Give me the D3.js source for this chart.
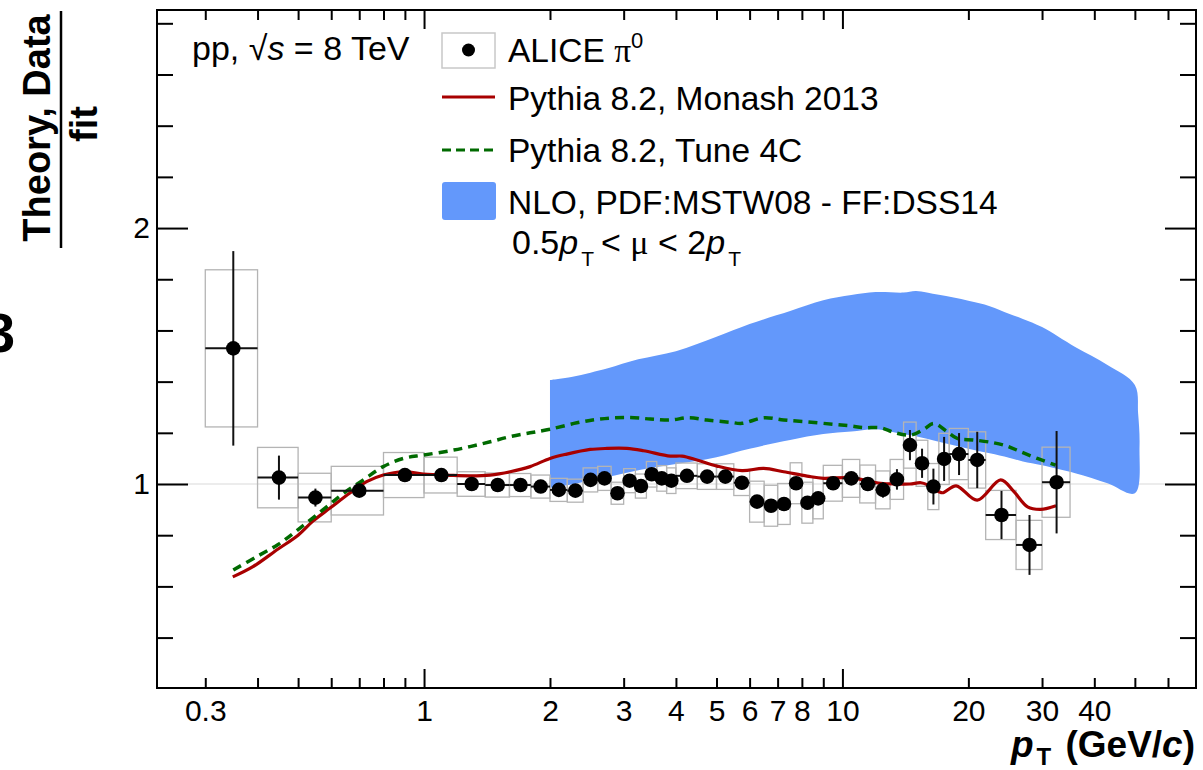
<!DOCTYPE html>
<html>
<head>
<meta charset="utf-8">
<script src="https://cdn.jsdelivr.net/npm/d3@7/dist/d3.min.js"></script>
<style>
  body { margin: 0; background: #fff; }
  svg { display: block; font-family: "Liberation Sans", Arial, Helvetica, sans-serif; }
</style>
</head>
<body>
<div id="chart"></div>
<script>
// ALICE pi0 pp 8 TeV, ratio to fit : bins, values, errors
var binLow  = [0.3,0.4,0.5,0.6,0.8,1.0,1.2,1.4,1.6,1.8,2.0,2.2,2.4,2.6,2.8,3.0,3.2,3.4,3.6,3.8,4.0,4.5,5.0,5.5,6.0,6.5,7.0,7.5,8.0,8.5,9,10,11,12,13,14,15,16,17,18,20,22,26,30];
var binHigh = [0.4,0.5,0.6,0.8,1.0,1.2,1.4,1.6,1.8,2.0,2.2,2.4,2.6,2.8,3.0,3.2,3.4,3.6,3.8,4.0,4.5,5.0,5.5,6.0,6.5,7.0,7.5,8.0,8.5,9.0,10,11,12,13,14,15,16,17,18,20,22,26,30,35];
var ptCenter = [0.35,0.45,0.55,0.7,0.9,1.1,1.3,1.5,1.7,1.9,2.1,2.3,2.5,2.7,2.9,3.1,3.3,3.5,3.7,3.9,4.25,4.75,5.25,5.75,6.25,6.75,7.25,7.75,8.25,8.75,9.5,10.5,11.5,12.5,13.5,14.5,15.5,16.5,17.5,19,21,24,28,32.5];
var ratio = [1.530,1.025,0.947,0.974,1.035,1.035,1.000,0.996,0.996,0.990,0.977,0.974,1.016,1.022,0.964,1.013,0.992,1.038,1.022,1.013,1.032,1.029,1.029,1.005,0.931,0.915,0.922,1.003,0.927,0.944,1.003,1.022,1.000,0.977,1.018,1.152,1.081,0.990,1.098,1.117,1.094,0.879,0.762,1.007];
var statErr = [0.38,0.086,0.035,0.01,0.01,0.01,0.01,0.01,0.01,0.01,0.01,0.01,0.01,0.01,0.01,0.01,0.01,0.01,0.01,0.01,0.01,0.01,0.01,0.012,0.015,0.015,0.015,0.015,0.02,0.02,0.015,0.02,0.02,0.03,0.04,0.059,0.057,0.07,0.086,0.082,0.11,0.094,0.117,0.2];
var systErr = [0.307,0.118,0.095,0.095,0.088,0.07,0.048,0.047,0.045,0.045,0.045,0.045,0.047,0.047,0.043,0.047,0.047,0.05,0.05,0.05,0.05,0.05,0.05,0.05,0.08,0.08,0.08,0.08,0.08,0.08,0.07,0.074,0.074,0.074,0.078,0.09,0.09,0.09,0.10,0.10,0.11,0.096,0.096,0.137];

// Pythia 8.2 Monash 2013
var monashPt = [0.349,0.39,0.447,0.5,0.5425,0.596,0.665,0.729,0.799,0.892,0.996,1.154,1.288,1.439,1.606,1.793,2.0,2.194,2.495,2.736,3.054,3.346,3.878,4.136,4.491,5.015,5.754,6.482,7.236,8.233,9.022,10.45,12.33,13.5,14.5,15.4,16.0,17.0,17.4,18.7,21.0,23.9,25.7,27.7,29.8,32.4];
var monashRatio = [0.637,0.677,0.745,0.80,0.855,0.906,0.965,1.009,1.035,1.048,1.039,1.034,1.032,1.035,1.048,1.068,1.100,1.117,1.135,1.139,1.139,1.130,1.109,1.109,1.094,1.070,1.052,1.061,1.048,1.031,1.022,1.025,1.003,1.0,1.0,1.005,0.996,0.970,0.966,0.993,0.937,1.016,0.970,0.911,0.901,0.915];

// Pythia 8.2 Tune 4C
var tune4cPt = [0.35,0.398,0.448,0.5,0.585,0.641,0.716,0.799,0.892,0.996,1.154,1.288,1.439,1.606,1.793,2.0,2.319,2.637,3.054,3.473,3.878,4.289,4.746,5.397,5.754,6.482,7.236,8.233,9.532,10.45,11.25,12.33,13.27,14.55,15.65,16.54,17.8,18.81,20.61,23.01,24.77,26.66,29.23,32.33];
var tune4cRatio = [0.664,0.716,0.764,0.822,0.911,0.963,1.016,1.068,1.100,1.113,1.130,1.146,1.165,1.185,1.200,1.214,1.239,1.254,1.260,1.254,1.250,1.259,1.250,1.241,1.237,1.259,1.250,1.243,1.233,1.227,1.220,1.220,1.202,1.191,1.214,1.237,1.204,1.178,1.172,1.161,1.148,1.126,1.100,1.074];

// NLO band (scale variation)
var nloPt   = [2,2.25,2.5,2.75,3.25,4,5,6,7.5,9,10.5,12,14,15,17,20,22.5,25,27,30,36,43,50];
var nloHigh = [1.406,1.418,1.435,1.452,1.487,1.519,1.575,1.625,1.676,1.718,1.738,1.750,1.748,1.754,1.739,1.716,1.695,1.665,1.645,1.613,1.535,1.465,1.387];
var nloLow  = [0.985,0.998,1.015,1.028,1.054,1.078,1.105,1.138,1.172,1.195,1.205,1.214,1.194,1.187,1.165,1.138,1.120,1.103,1.088,1.073,1.042,1.003,0.964];
var nloEdgePt = [50.9,51.3];
var nloEdgeRatio = [1.276,1.146];

// axis ticks
var xTickLabels = [0.3,1,2,3,4,5,6,7,8,10,20,30,40];
var xMinorTicks = [0.3,0.4,0.5,0.6,0.7,0.8,0.9,2,3,4,5,6,7,8,9,20,30,40,50,60];
var xMajorTicks = [1,10];
var yTickLabels = [1,2];
var yMinorTicks = [0.4,0.6,0.8,1.2,1.4,1.6,1.8,2.2,2.4,2.6,2.8];

var W = 1203, H = 770;
var frame = {left: 157, right: 1196, top: 10, bottom: 688};

var svg = d3.select("#chart").append("svg")
  .attr("width", W).attr("height", H);

var x = d3.scaleLog().domain([0.23, 70]).range([frame.left, frame.right]);
var y = d3.scaleLinear().domain([0.203, 2.852]).range([frame.bottom, frame.top]);

var blue = "#6398fb", red = "#a80000", green = "#006a00";

// reference line at 1
svg.append("line")
  .attr("x1", frame.left).attr("x2", frame.right)
  .attr("y1", y(1)).attr("y2", y(1))
  .attr("stroke", "#ececec").attr("stroke-width", 2);

// NLO band
var outline = [];
nloPt.forEach(function(p, i) { outline.push([p, nloHigh[i]]); });
nloEdgePt.forEach(function(p, i) { outline.push([p, nloEdgeRatio[i]]); });
for (var i = nloPt.length - 1; i >= 0; i--) outline.push([nloPt[i], nloLow[i]]);
svg.append("path")
  .attr("d", d3.line().x(function(d) { return x(d[0]); }).y(function(d) { return y(d[1]); })
    .curve(d3.curveCatmullRom)(outline) + "Z")
  .attr("fill", blue);

// data table
var data = ptCenter.map(function(p, i) {
  return {pt: p, lo: binLow[i], hi: binHigh[i], v: ratio[i], stat: statErr[i], syst: systErr[i]};
});

// systematic boxes
svg.selectAll("rect.syst").data(data).enter().append("rect")
  .attr("class", "syst")
  .attr("x", function(d) { return x(d.lo); })
  .attr("width", function(d) { return x(d.hi) - x(d.lo); })
  .attr("y", function(d) { return y(d.v + d.syst); })
  .attr("height", function(d) { return y(d.v - d.syst) - y(d.v + d.syst); })
  .attr("fill", "none").attr("stroke", "#b4b4b4").attr("stroke-width", 1.3);

// Pythia curves
var curve = d3.line().x(function(d) { return x(d[0]); }).y(function(d) { return y(d[1]); })
  .curve(d3.curveCatmullRom);
svg.append("path")
  .attr("d", curve(monashPt.map(function(p, i) { return [p, monashRatio[i]]; })))
  .attr("fill", "none").attr("stroke", red).attr("stroke-width", 3.2);
svg.append("path")
  .attr("d", curve(tune4cPt.map(function(p, i) { return [p, tune4cRatio[i]]; })))
  .attr("fill", "none").attr("stroke", green).attr("stroke-width", 3.5)
  .attr("stroke-dasharray", "9,6");

// stat errors
svg.selectAll("line.xerr").data(data).enter().append("line")
  .attr("x1", function(d) { return x(d.lo); }).attr("x2", function(d) { return x(d.hi); })
  .attr("y1", function(d) { return y(d.v); }).attr("y2", function(d) { return y(d.v); })
  .attr("stroke", "#111").attr("stroke-width", 2);
svg.selectAll("line.yerr").data(data).enter().append("line")
  .attr("x1", function(d) { return x(d.pt); }).attr("x2", function(d) { return x(d.pt); })
  .attr("y1", function(d) { return y(d.v - d.stat); }).attr("y2", function(d) { return y(d.v + d.stat); })
  .attr("stroke", "#111").attr("stroke-width", 2);
svg.selectAll("circle.pt").data(data).enter().append("circle")
  .attr("cx", function(d) { return x(d.pt); }).attr("cy", function(d) { return y(d.v); })
  .attr("r", 7.3).attr("fill", "#000");

// axes (ROOT style: ticks inside, mirrored)
function styleAxis(g) {
  g.select(".domain").remove();
  g.selectAll("line").attr("stroke", "#000").attr("stroke-width", 2);
}
svg.append("g").attr("transform", "translate(0," + frame.bottom + ")")
  .call(d3.axisBottom(x).tickValues(xMinorTicks).tickSize(-10).tickFormat("")).call(styleAxis);
svg.append("g").attr("transform", "translate(0," + frame.bottom + ")")
  .call(d3.axisBottom(x).tickValues(xMajorTicks).tickSize(-19).tickFormat("")).call(styleAxis);
svg.append("g").attr("transform", "translate(0," + frame.top + ")")
  .call(d3.axisTop(x).tickValues(xMinorTicks).tickSize(-10).tickFormat("")).call(styleAxis);
svg.append("g").attr("transform", "translate(0," + frame.top + ")")
  .call(d3.axisTop(x).tickValues(xMajorTicks).tickSize(-19).tickFormat("")).call(styleAxis);
var xl = svg.append("g").attr("transform", "translate(0," + frame.bottom + ")")
  .call(d3.axisBottom(x).tickValues(xTickLabels).tickSize(0).tickPadding(12).tickFormat(function(d) { return d; }));
xl.select(".domain").remove();
xl.attr("font-size", 30).attr("font-family", null);
xl.selectAll("text").attr("fill", "#000");

svg.append("g").attr("transform", "translate(" + frame.left + ",0)")
  .call(d3.axisLeft(y).tickValues(yMinorTicks).tickSize(-16).tickFormat("")).call(styleAxis);
svg.append("g").attr("transform", "translate(" + frame.left + ",0)")
  .call(d3.axisLeft(y).tickValues(yTickLabels).tickSize(-31).tickFormat("")).call(styleAxis);
svg.append("g").attr("transform", "translate(" + frame.right + ",0)")
  .call(d3.axisRight(y).tickValues(yMinorTicks).tickSize(-16).tickFormat("")).call(styleAxis);
svg.append("g").attr("transform", "translate(" + frame.right + ",0)")
  .call(d3.axisRight(y).tickValues(yTickLabels).tickSize(-31).tickFormat("")).call(styleAxis);
var yl = svg.append("g").attr("transform", "translate(" + frame.left + ",0)")
  .call(d3.axisLeft(y).tickValues(yTickLabels).tickSize(0).tickPadding(7).tickFormat(function(d) { return d; }));
yl.select(".domain").remove();
yl.attr("font-size", 30).attr("font-family", null);
yl.selectAll("text").attr("fill", "#000");

// frame
svg.append("rect")
  .attr("x", frame.left).attr("y", frame.top)
  .attr("width", frame.right - frame.left).attr("height", frame.bottom - frame.top)
  .attr("fill", "none").attr("stroke", "#000").attr("stroke-width", 2);

// axis titles
var xt = svg.append("text").attr("x", 1195).attr("y", 757)
  .attr("text-anchor", "end").attr("font-size", 37).attr("font-weight", "bold");
xt.append("tspan").attr("font-style", "italic").text("p");
xt.append("tspan").attr("font-size", 24).attr("dx", 3).attr("dy", 8).text("T");
xt.append("tspan").attr("dy", -8).attr("dx", 4).text(" (GeV/");
xt.append("tspan").attr("font-style", "italic").text("c");
xt.append("tspan").text(")");

svg.append("text").attr("transform", "translate(50,128) rotate(-90)")
  .attr("text-anchor", "middle").attr("font-size", 38).attr("font-weight", "bold")
  .text("Theory, Data");
svg.append("line").attr("x1", 61).attr("x2", 61).attr("y1", 11).attr("y2", 248)
  .attr("stroke", "#000").attr("stroke-width", 2.5);
svg.append("text").attr("transform", "translate(97,124) rotate(-90)")
  .attr("text-anchor", "middle").attr("font-size", 38).attr("font-weight", "bold")
  .text("fit");
svg.append("text").attr("x", -16).attr("y", 352)
  .attr("font-size", 56).attr("font-weight", "bold").text("3");

// system label
var sys = svg.append("text").attr("x", 192).attr("y", 60).attr("font-size", 34);
sys.append("tspan").text("pp, ");
sys.append("tspan").text("\u221A");
sys.append("tspan").attr("font-style", "italic").text("s");
sys.append("tspan").text(" = 8 TeV");

// legend
var lx = 442, lw = 53, tx = 508;
svg.append("rect").attr("x", lx).attr("y", 33).attr("width", lw).attr("height", 35)
  .attr("fill", "#fff").attr("stroke", "#c8c8c8").attr("stroke-width", 1.5);
svg.append("circle").attr("cx", lx + lw / 2).attr("cy", 50).attr("r", 6.5).attr("fill", "#000");
var t1 = svg.append("text").attr("x", tx).attr("y", 62).attr("font-size", 33.5);
t1.append("tspan").text("ALICE ");
t1.append("tspan").attr("font-family", "'Liberation Serif', 'DejaVu Serif', serif").text("\u03C0");
t1.append("tspan").attr("font-size", 22).attr("dy", -14).text("0");

svg.append("line").attr("x1", lx).attr("x2", lx + lw).attr("y1", 97).attr("y2", 97)
  .attr("stroke", red).attr("stroke-width", 3);
svg.append("text").attr("x", tx).attr("y", 110).attr("font-size", 33.5).text("Pythia 8.2, Monash 2013");

svg.append("line").attr("x1", lx).attr("x2", lx + lw).attr("y1", 150).attr("y2", 150)
  .attr("stroke", green).attr("stroke-width", 3).attr("stroke-dasharray", "9,5");
svg.append("text").attr("x", tx).attr("y", 162).attr("font-size", 33.5).text("Pythia 8.2, Tune 4C");

svg.append("rect").attr("x", lx).attr("y", 182).attr("width", lw + 1).attr("height", 38)
  .attr("rx", 3).attr("fill", blue);
svg.append("text").attr("x", tx).attr("y", 214).attr("font-size", 33.5).text("NLO, PDF:MSTW08 - FF:DSS14");
var t4 = svg.append("text").attr("x", tx + 4).attr("y", 254).attr("font-size", 34);
t4.append("tspan").text("0.5");
t4.append("tspan").attr("font-style", "italic").text("p");
t4.append("tspan").attr("font-size", 21).attr("dx", 3).attr("dy", 12).text("T");
t4.append("tspan").attr("dx", 7).attr("dy", -12).text("< ");
t4.append("tspan").attr("font-family", "'Liberation Serif', 'DejaVu Serif', serif").text("\u03BC");
t4.append("tspan").text(" < 2");
t4.append("tspan").attr("font-style", "italic").text("p");
t4.append("tspan").attr("font-size", 21).attr("dx", 3).attr("dy", 12).text("T");
</script>
</body>
</html>
